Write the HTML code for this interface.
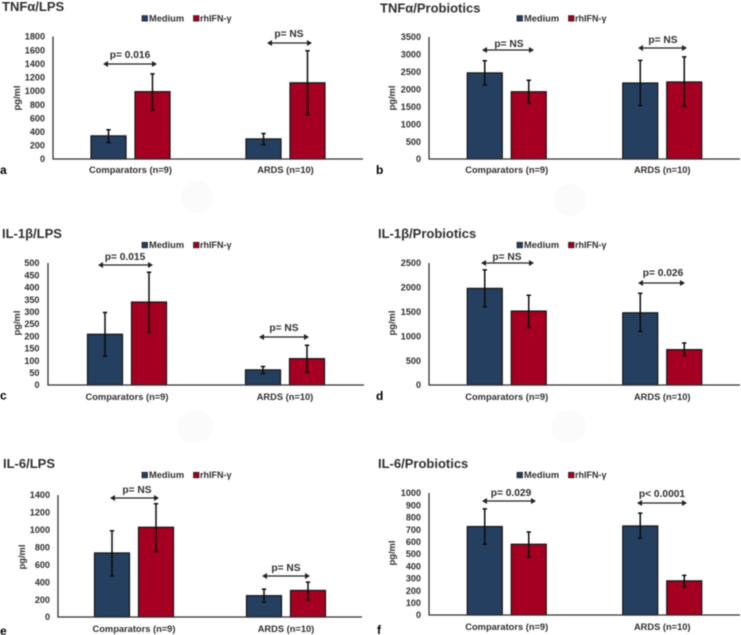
<!DOCTYPE html>
<html lang="en">
<head>
<meta charset="utf-8">
<title>Cytokine response panels</title>
<style>
html,body{margin:0;padding:0;background:#fff;width:741px;height:635px;overflow:hidden}
svg{display:block;filter:blur(.4px)}
text{font-family:"Liberation Sans",Arial,sans-serif;font-weight:700}
</style>
</head>
<body>
<svg id="figure" xmlns="http://www.w3.org/2000/svg" width="741" height="635" viewBox="0 0 741 635"></svg>
<script>
// ---- data ----
const categories = ['Comparators (n=9)', 'ARDS (n=10)'];
const seriesNames = ['Medium', 'rhIFN-γ'];

const aTicks = [0,200,400,600,800,1000,1200,1400,1600,1800];
const aMedium = [340,295];
const aMediumLow = [240,210];
const aMediumHigh = [430,375];
const aRhifn = [990,1120];
const aRhifnLow = [720,650];
const aRhifnHigh = [1250,1590];
const aPvalues = ['p= 0.016','p= NS'];

const bTicks = [0,500,1000,1500,2000,2500,3000,3500];
const bMedium = [2470,2180];
const bMediumLow = [2120,1530];
const bMediumHigh = [2820,2830];
const bRhifn = [1930,2210];
const bRhifnLow = [1600,1510];
const bRhifnHigh = [2260,2930];
const bPvalues = ['p= NS','p= NS'];

const cTicks = [0,50,100,150,200,250,300,350,400,450,500];
const cMedium = [208,62];
const cMediumLow = [118,47];
const cMediumHigh = [297,76];
const cRhifn = [340,108];
const cRhifnLow = [215,52];
const cRhifnHigh = [462,163];
const cPvalues = ['p= 0.015','p= NS'];

const dTicks = [0,500,1000,1500,2000,2500];
const dMedium = [1980,1480];
const dMediumLow = [1600,1100];
const dMediumHigh = [2360,1880];
const dRhifn = [1515,725];
const dRhifnLow = [1180,600];
const dRhifnHigh = [1840,860];
const dPvalues = ['p= NS','p= 0.026'];

const eTicks = [0,200,400,600,800,1000,1200,1400];
const eMedium = [735,245];
const eMediumLow = [470,170];
const eMediumHigh = [990,320];
const eRhifn = [1030,305];
const eRhifnLow = [755,195];
const eRhifnHigh = [1300,400];
const ePvalues = ['p= NS','p= NS'];

const fTicks = [0,100,200,300,400,500,600,700,800,900,1000];
const fMedium = [725,730];
const fMediumLow = [580,630];
const fMediumHigh = [870,835];
const fRhifn = [580,280];
const fRhifnLow = [475,230];
const fRhifnHigh = [680,325];
const fPvalues = ['p= 0.029','p< 0.0001'];

// ---- panel assembly (layout kept apart from the values) ----
const panels = [
 {id:'a',title:'TNFα/LPS',ticks:aTicks,med:aMedium,medLo:aMediumLow,medHi:aMediumHigh,rh:aRhifn,rhLo:aRhifnLow,rhHi:aRhifnHigh,p:aPvalues,
  x0:53,x1:363,top:36.5,base:159,tickX:45,titleX:2,titleY:11,letterX:0,letterY:174,ylabX:17,ylabY:98,legX:142,legY:18.3,catY:173,
  arrows:[[103,157,64,130,58],[267,312,43,289,37]]},
 {id:'b',title:'TNFα/Probiotics',ticks:bTicks,med:bMedium,medLo:bMediumLow,medHi:bMediumHigh,rh:bRhifn,rhLo:bRhifnLow,rhHi:bRhifnHigh,p:bPvalues,
  x0:429,x1:740,top:37,base:159,tickX:421,titleX:380,titleY:12.5,letterX:376,letterY:174,ylabX:392,ylabY:98,legX:517,legY:18.3,catY:173,
  arrows:[[482,534,50,509,47],[638,687,48,663,43]]},
 {id:'c',title:'IL-1β/LPS',ticks:cTicks,med:cMedium,medLo:cMediumLow,medHi:cMediumHigh,rh:cRhifn,rhLo:cRhifnLow,rhHi:cRhifnHigh,p:cPvalues,
  x0:48,x1:364,top:263,base:385,tickX:39.5,titleX:2,titleY:238,letterX:0,letterY:399.5,ylabX:17,ylabY:323,legX:142,legY:245,catY:400,
  arrows:[[98,153,265,125,260],[259,309,337,284,331]]},
 {id:'d',title:'IL-1β/Probiotics',ticks:dTicks,med:dMedium,medLo:dMediumLow,medHi:dMediumHigh,rh:dRhifn,rhLo:dRhifnLow,rhHi:dRhifnHigh,p:dPvalues,
  x0:429,x1:740,top:263,base:385,tickX:421,titleX:378,titleY:238,letterX:376,letterY:400,ylabX:392,ylabY:323,legX:517,legY:245,catY:400,
  arrows:[[481,534,263,507,260],[638,685,283,663,276]]},
 {id:'e',title:'IL-6/LPS',ticks:eTicks,med:eMedium,medLo:eMediumLow,medHi:eMediumHigh,rh:eRhifn,rhLo:eRhifnLow,rhHi:eRhifnHigh,p:ePvalues,
  x0:58,x1:362,top:495,base:617,tickX:50,titleX:3,titleY:468,letterX:0,letterY:635,ylabX:22,ylabY:557,legX:142,legY:475,catY:632,
  arrows:[[110,159,498,137,493],[262,310,576,286,571]]},
 {id:'f',title:'IL-6/Probiotics',ticks:fTicks,med:fMedium,medLo:fMediumLow,medHi:fMediumHigh,rh:fRhifn,rhLo:fRhifnLow,rhHi:fRhifnHigh,p:fPvalues,
  x0:429,x1:740,top:493,base:615,tickX:421,titleX:378,titleY:468,letterX:377,letterY:634,ylabX:392,ylabY:553,legX:517,legY:475,catY:630,
  arrows:[[482,536,501,511,496],[637,687,503,662,497]]}
];
const faintSpots = [[197,197],[570,200],[197,426],[570,426],[193,427],[567,427]];

const NS = 'http://www.w3.org/2000/svg';
const INK = '#2f2f2f';
const NAVY = '#243f60';
const RED = '#a50021';
const svg = document.getElementById('figure');

function node(parent, tag, props, content){
  const el = document.createElementNS(NS, tag);
  for (const k in props) el.setAttribute(k, props[k]);
  if (content !== undefined) el.textContent = content;
  parent.appendChild(el);
  return el;
}

function yScale(p){
  const max = p.ticks[p.ticks.length-1];
  return v => p.base - (v / max) * (p.base - p.top);
}
function xBand(p){
  const band = (p.x1 - p.x0) / categories.length;
  return i => p.x0 + (i + 0.5) * band;
}

function drawBar(g, p, y, cx, value, lo, hi, fill, label){
  const w = 35, top = y(value);
  const bar = node(g,'rect',{x:cx-w/2,y:top,width:w,height:p.base-top,fill:fill,stroke:'#141414','stroke-width':1.2});
  
  
  const err = node(g,'path',{d:`M${cx} ${y(lo)}V${y(hi)}M${cx-2.2} ${y(lo)}H${cx+2.2}M${cx-2.2} ${y(hi)}H${cx+2.2}`,fill:'none',stroke:'#0c0c0c','stroke-width':1.5});
  
  
}

faintSpots.forEach((s,i) => {
  const spot = node(svg,'circle',{cx:s[0],cy:s[1],r:16,fill:'#fbfbfb'});
  
  
});

panels.forEach(p => {
  const g = node(svg,'g',{});
  
  
  const y = yScale(p), x = xBand(p);

  const title = node(g,'text',{x:p.titleX,y:p.titleY,'font-size':13,fill:INK},p.title);
  
  

  const letter = node(g,'text',{x:p.letterX,y:p.letterY,'font-size':12,fill:'#000'},p.id);
  
  

  const ylab = node(g,'text',{x:0,y:0,'font-size':9.3,fill:INK,'text-anchor':'middle',transform:`translate(${p.ylabX+3} ${p.ylabY}) rotate(-90)`},'pg/ml');
  
  

  p.ticks.forEach(t => {
    const lab = node(g,'text',{x:p.tickX,y:y(t)+3.2,'font-size':9.1,fill:INK,'text-anchor':'end'},String(t));
    
    
  });

  categories.forEach((c,i) => {
    const cx = x(i);
    drawBar(g,p,y,cx-22,p.med[i],p.medLo[i],p.medHi[i],NAVY,'medium-' + i);
    drawBar(g,p,y,cx+22,p.rh[i],p.rhLo[i],p.rhHi[i],RED,'rhifn-' + i);
    const cat = node(g,'text',{x:cx,y:p.catY,'font-size':9.3,fill:INK,'text-anchor':'middle'},c);
    
    
  });

  const axes = node(g,'path',{d:`M${p.x0} ${p.top}V${p.base}H${p.x1}`,fill:'none',stroke:'#333','stroke-width':1.3});
  
  

  p.arrows.forEach((a,i) => {
    const ag = node(g,'g',{});
    
    
    node(ag,'path',{d:`M${a[0]+3} ${a[2]}H${a[1]-3}`,stroke:'#222','stroke-width':1.2,fill:'none'});
    node(ag,'path',{d:`M${a[0]} ${a[2]}l5 -3v6zM${a[1]} ${a[2]}l-5 -3v6z`,fill:'#222'});
    const pv = node(ag,'text',{x:a[3],y:a[4],'font-size':10.2,fill:INK,'text-anchor':'middle'},p.p[i]);
    
    
  });

  const leg = node(g,'g',{});
  
  
  const swatch1 = node(leg,'rect',{x:p.legX,y:p.legY-2.7,width:5.5,height:5.5,fill:NAVY,stroke:'#1a1a1a','stroke-width':.7});
  
  
  const text1 = node(leg,'text',{x:p.legX+7,y:p.legY+3.2,'font-size':9.3,fill:INK},seriesNames[0]);
  
  
  const swatch2 = node(leg,'rect',{x:p.legX+51.5,y:p.legY-2.7,width:5.5,height:5.5,fill:RED,stroke:'#1a1a1a','stroke-width':.7});
  
  
  const text2 = node(leg,'text',{x:p.legX+58,y:p.legY+3.2,'font-size':9,fill:INK},seriesNames[1]);
  
  
});
</script>
</body>
</html>
